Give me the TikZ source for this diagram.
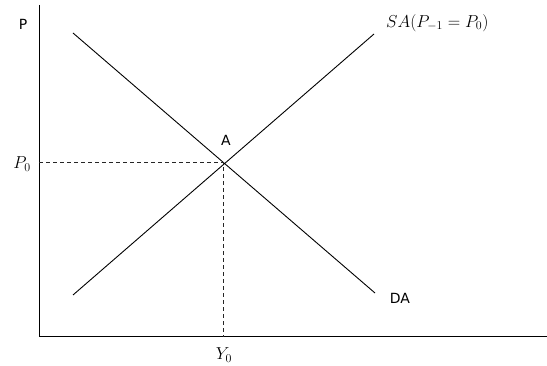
\documentclass[tikz,border=0pt]{standalone}
\usepackage{fontspec}
\newfontfamily\lblfont{DejaVu Sans}
\begin{document}
\begin{tikzpicture}[x=1pt,y=-1pt,
  curve/.style={line width=0.9pt},
  axis/.style={line width=1pt},
  guide/.style={line width=1pt,dash pattern=on 4pt off 3pt,draw=black!85},
  sanslbl/.style={font=\lblfont\fontsize{14}{16}\selectfont,inner sep=0pt},
  mathlbl/.style={font=\fontsize{17.5}{19}\selectfont,inner sep=0pt}]
\useasboundingbox (0,0) rectangle (547,366);
% axes
\coordinate (O) at (39,337);
\coordinate (ytop) at (39,5);
\coordinate (xend) at (547,337);
\draw[axis] (ytop) -- (O) -- (xend);
% curves
\coordinate (da1) at (73,33);
\coordinate (da2) at (375,293);
\coordinate (sa1) at (73,295);
\coordinate (sa2) at (374,34);
\coordinate (A) at (223.5,163);
\draw[curve] (da1) -- (da2);
\draw[curve] (sa1) -- (sa2);
% guides
\coordinate (p0) at (39,163);
\coordinate (y0) at (223.5,337);
\draw[guide] (p0) -- (A) -- (y0);
% labels
\node[sanslbl] (lP) at (23,24) {P};
\node[sanslbl] (lA) at (226,140) {A};
\node[sanslbl] (lDA) at (400,298) {DA};
\node[mathlbl,anchor=west] (lSA) at (386,23) {$SA(P_{-1}=P_0)$};
\node[mathlbl] (lP0) at (22,164) {$P_0$};
\node[mathlbl] (lY0) at (224,355) {$Y_0$};
\end{tikzpicture}
\end{document}
